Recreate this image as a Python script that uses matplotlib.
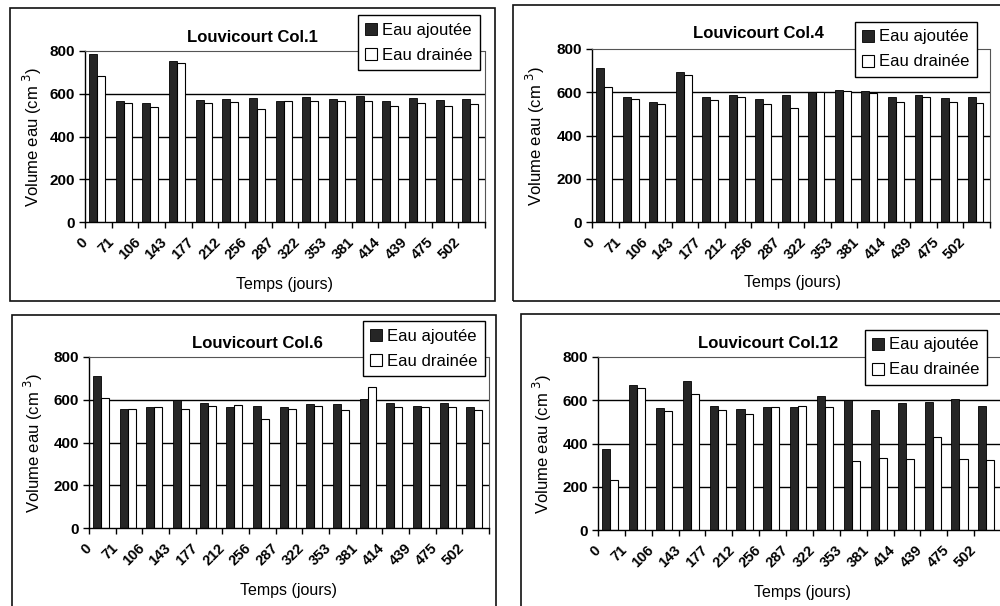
import numpy as np
import matplotlib
matplotlib.use("Agg")
import matplotlib.pyplot as plt
from matplotlib.patches import Rectangle
from matplotlib.transforms import ScaledTranslation

plt.rcParams['font.family'] = ['Liberation Sans', 'DejaVu Sans']

jours = ['0', '71', '106', '143', '177', '212', '256', '287', '322', '353',
         '381', '414', '439', '475', '502']

col1_ajoutee = [785, 565, 558, 755, 570, 575, 580, 565, 585, 575, 590, 565, 578, 573, 575]
col1_drainee = [685, 555, 540, 745, 555, 563, 530, 565, 565, 568, 565, 545, 555, 545, 553]

col4_ajoutee = [710, 577, 553, 692, 577, 588, 570, 585, 600, 610, 605, 578, 585, 573, 578]
col4_drainee = [622, 570, 547, 681, 563, 578, 547, 525, 600, 605, 595, 557, 578, 557, 552]

col6_ajoutee = [710, 558, 565, 598, 583, 565, 570, 565, 580, 580, 603, 585, 573, 585, 568]
col6_drainee = [610, 558, 565, 558, 570, 575, 510, 555, 573, 553, 660, 565, 568, 565, 550]

col12_ajoutee = [375, 670, 565, 690, 573, 558, 570, 570, 620, 603, 557, 585, 590, 608, 575]
col12_drainee = [230, 655, 548, 628, 553, 538, 570, 574, 568, 317, 333, 327, 430, 328, 322]

W, H = 1000, 606
fig = plt.figure(figsize=(W / 100, H / 100), dpi=100)


def fx(x):
    return x / W


def fy(y):
    return 1 - y / H


panels = [
    dict(title='Louvicourt Col.1', a=col1_ajoutee, d=col1_drainee,
         ax=(85, 485, 51, 222), frame=(10, 8, 495, 301),
         leg=(480, 15), title_xy=(252, 38), ylab_x=32, xlab_xy=(284, 285)),
    dict(title='Louvicourt Col.4', a=col4_ajoutee, d=col4_drainee,
         ax=(592, 990, 49, 222), frame=(513, 5, 1010, 301),
         leg=(977, 22), title_xy=(758, 33), ylab_x=535, xlab_xy=(792, 282)),
    dict(title='Louvicourt Col.6', a=col6_ajoutee, d=col6_drainee,
         ax=(89, 489, 357, 528), frame=(12, 315, 496, 620),
         leg=(485, 321), title_xy=(257, 343), ylab_x=33, xlab_xy=(288, 590)),
    dict(title='Louvicourt Col.12', a=col12_ajoutee, d=col12_drainee,
         ax=(598, 1001, 357, 530), frame=(521, 314, 1010, 620),
         leg=(987, 330), title_xy=(768, 343), ylab_x=542, xlab_xy=(802, 593)),
]

x = np.arange(len(jours))
bw = 0.3
shift = -0.045
for p in panels:
    l, r, t, b = p['ax']
    fr = p['frame']
    fig.patches.append(Rectangle((fx(fr[0]), fy(fr[3])), fx(fr[2] - fr[0]), (fr[3] - fr[1]) / H,
                                 transform=fig.transFigure, fill=False,
                                 edgecolor='#111111', lw=1.2, zorder=0))
    ax = fig.add_axes([fx(l), fy(b), fx(r - l), (b - t) / H])
    ax.set_facecolor('white')
    for yv in [200, 400, 600]:
        ax.axhline(yv, color='black', lw=1.0, zorder=1)
    b1 = ax.bar(x - bw / 2 + shift, p['a'], width=bw, color='#262626', edgecolor='black',
                lw=0.6, zorder=2, label='Eau ajoutée')
    b2 = ax.bar(x + bw / 2 + shift, p['d'], width=bw, color='white', edgecolor='black',
                lw=0.8, zorder=2, label='Eau drainée')
    ax.set_xlim(-0.5, len(jours) - 0.5)
    ax.set_ylim(0, 800)
    ax.set_yticks([0, 200, 400, 600, 800])
    ax.set_yticklabels(['0', '200', '400', '600', '800'], fontsize=11, fontweight='bold')
    ax.set_xticks(np.arange(len(jours) + 1) - 0.5)
    ax.set_xticklabels(jours + [''], rotation=45, ha='right', va='center',
                       rotation_mode='anchor', fontsize=10.5, fontweight='bold')
    off = ScaledTranslation(11 / 100, -9 / 100, fig.dpi_scale_trans)
    for lab in ax.get_xticklabels():
        lab.set_transform(lab.get_transform() + off)
    ax.tick_params(axis='x', direction='out', length=4, width=1, pad=9)
    ax.tick_params(axis='y', direction='out', length=4, width=1, pad=3)
    for s in ['left', 'bottom']:
        ax.spines[s].set_color('black')
        ax.spines[s].set_linewidth(1.0)
    for s in ['top', 'right']:
        ax.spines[s].set_color('#555555')
        ax.spines[s].set_linestyle((0, (1, 1)))
        ax.spines[s].set_linewidth(0.8)
    fig.text(fx(p['title_xy'][0]), fy(p['title_xy'][1]), p['title'], ha='center', va='center',
             fontsize=12, fontweight='bold')
    fig.text(fx(p['ylab_x']), fy((t + b) / 2), 'Volume eau (cm $^3$)', rotation=90,
             ha='center', va='center', fontsize=12)
    fig.text(fx(p['xlab_xy'][0]), fy(p['xlab_xy'][1]), 'Temps (jours)', ha='center', va='center',
             fontsize=11.5)
    leg = ax.legend(handles=[b1, b2], loc='upper right',
                    bbox_to_anchor=(fx(p['leg'][0]), fy(p['leg'][1])),
                    bbox_transform=fig.transFigure, frameon=True, fancybox=False,
                    edgecolor='black', framealpha=1, fontsize=12,
                    handlelength=0.7, handleheight=0.7, handletextpad=0.3,
                    borderpad=0.45, labelspacing=0.6, borderaxespad=0)
    leg.get_frame().set_linewidth(1.0)
    leg.set_zorder(5)

fig.savefig('out.png', dpi=100)
